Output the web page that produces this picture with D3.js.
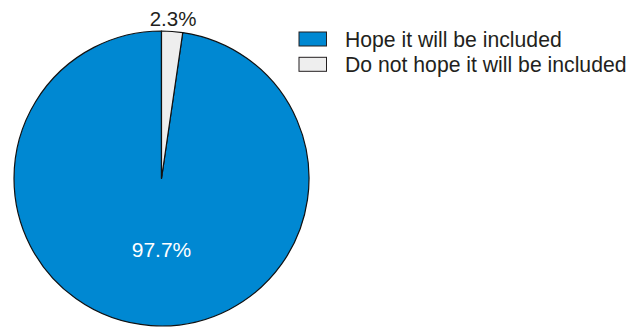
<!DOCTYPE html>
<html>
<head>
<meta charset="utf-8">
<script src="https://cdn.jsdelivr.net/npm/d3@7"></script>
<style>
  html, body { margin: 0; padding: 0; background: #fff; }
  svg { display: block; font-family: "Liberation Sans", Arial, sans-serif; }
</style>
</head>
<body>
<svg id="chart" width="642" height="332"></svg>
<script>
// Survey answers and their shares (%)
const categories = ["Hope it will be included", "Do not hope it will be included"];
const shares = [97.7, 2.3];
const labels = ["97.7%", "2.3%"];
const colors = ["#0088d2", "#eeeeee"];

const svg = d3.select("#chart");
const cx = 161.5, cy = 178.5, R = 147.5;

// Blue slice begins where the small slice ends, so the small one sits just right of 12 o'clock
const offset = 2 * Math.PI * shares[1] / d3.sum(shares);
const pie = d3.pie().sort(null).value(d => d)
  .startAngle(offset).endAngle(offset + 2 * Math.PI);
const arcs = pie(shares);
const arc = d3.arc().innerRadius(0).outerRadius(R);

const g = svg.append("g").attr("transform", `translate(${cx},${cy})`);
g.selectAll("path.slice")
  .data(arcs)
  .join("path")
  .attr("class", "slice")
  .attr("d", arc)
  .attr("fill", (d, i) => colors[i])
  .attr("stroke", "#111")
  .attr("stroke-width", 1.2)
  .attr("stroke-linejoin", "round");

// Inside label for the large slice, outside label for the small one
const inner = d3.arc().innerRadius(R * 0.48).outerRadius(R * 0.48);
const outer = d3.arc().innerRadius(R + 12.5).outerRadius(R + 12.5);
g.append("text")
  .attr("x", 0)
  .attr("y", inner.centroid({startAngle: Math.PI, endAngle: Math.PI})[1])
  .attr("text-anchor", "middle")
  .attr("dominant-baseline", "central")
  .attr("fill", "#fff")
  .attr("font-size", 21)
  .text(labels[0]);
const oc = outer.centroid(arcs[1]);
g.append("text")
  .attr("x", oc[0])
  .attr("y", oc[1])
  .attr("text-anchor", "middle")
  .attr("dominant-baseline", "central")
  .attr("fill", "#231f20")
  .attr("font-size", 20.5)
  .text(labels[1]);

// Legend
const legend = svg.append("g").attr("transform", "translate(299,32)");
const item = legend.selectAll("g")
  .data(categories)
  .join("g")
  .attr("transform", (d, i) => `translate(0,${i * 25.3})`);
item.append("rect")
  .attr("width", 27.5).attr("height", 14)
  .attr("fill", (d, i) => colors[i])
  .attr("stroke", "#231f20").attr("stroke-width", 1);
item.append("text")
  .attr("x", 46).attr("y", 7.5)
  .attr("dominant-baseline", "central")
  .attr("fill", "#231f20")
  .attr("font-size", 21.2)
  .text(d => d);
</script>
</body>
</html>
